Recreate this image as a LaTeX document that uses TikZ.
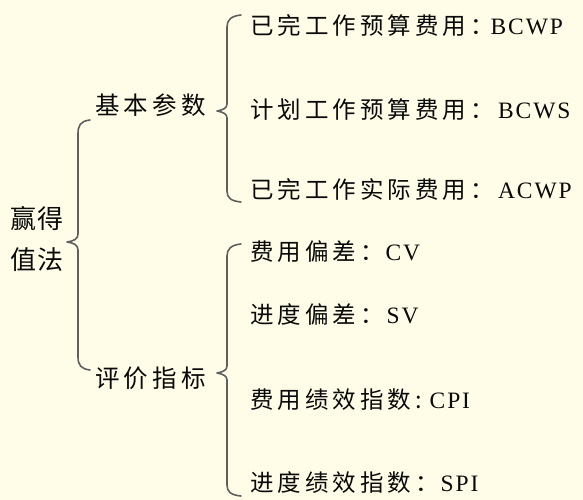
\documentclass[tikz,border=0pt]{standalone}
\usepackage{fontspec}
\setmainfont{Liberation Serif}[LetterSpace=8]
\newfontfamily\cjk{Noto Sans CJK SC}[LetterSpace=17]
\newfontfamily\cjkb{Noto Sans CJK SC}[LetterSpace=5]
\definecolor{bg}{RGB}{255,253,232}
\definecolor{bracecol}{RGB}{95,95,95}
\definecolor{txt}{RGB}{10,10,10}
\tikzset{
  lbl/.style={anchor=west,inner sep=0pt,text=txt,font=\fontsize{23.5}{28}\selectfont},
  midlbl/.style={anchor=west,inner sep=0pt,text=txt,font=\fontsize{24.5}{28}\selectfont\cjk},
  rootlbl/.style={anchor=west,inner sep=0pt,text=txt,align=left,font=\fontsize{26}{41}\selectfont\cjkb},
  bracestyle/.style={draw=bracecol,line width=1.6pt,line cap=round,line join=round}
}
\begin{document}
\begin{tikzpicture}[x=1pt,y=-1pt]
\fill[bg] (0,0) rectangle (583,500);
\useasboundingbox (0,0) rectangle (583,500);

% root
\node[rootlbl] (root) at (10,239) {赢得\\值法};

% level 2
\node[midlbl] (jb) at (95,105) {基本参数};
\node[midlbl] (pj) at (95,378) {评价指标};

% leaves
\node[lbl] (a1) at (250,26) {{\cjk 已完工作预算费用：}\hspace{-3pt}BCWP};
\node[lbl] (a2) at (250,110) {{\cjk 计划工作预算费用：}\hspace{4.5pt}BCWS};
\node[lbl] (a3) at (250,190) {{\cjk 已完工作实际费用：}\hspace{4.5pt}ACWP};
\node[lbl] (b1) at (250,252) {{\cjk 费用偏差：}\hspace{2pt}CV};
\node[lbl] (b2) at (250,315) {{\cjk 进度偏差：}\hspace{3pt}SV};
\node[lbl] (b3) at (250,400) {{\cjk 费用绩效指数:}\hspace{8pt}CPI};
\node[lbl] (b4) at (250,483) {{\cjk 进度绩效指数：}\hspace{2pt}SPI};

% big brace
\draw[bracestyle] (90,120) .. controls (80,121) and (78,126) .. (78,134)
  -- (78,234) .. controls (78,239) and (74,241) .. (67,242)
  .. controls (74,243) and (78,245) .. (78,250)
  -- (78,357) .. controls (78,365) and (81,369) .. (90,370);

% upper brace
\draw[bracestyle] (241,15) .. controls (231,16) and (227,20) .. (227,27)
  -- (227,104) .. controls (227,108) and (223,110) .. (217,111)
  .. controls (223,112) and (227,114) .. (227,118)
  -- (227,191) .. controls (227,198) and (231,201) .. (241,202);

% lower brace
\draw[bracestyle] (241,244) .. controls (231,245) and (227,249) .. (227,256)
  -- (227,366) .. controls (227,370) and (223,372) .. (217,373)
  .. controls (223,374) and (227,376) .. (227,380)
  -- (227,485) .. controls (227,492) and (231,495) .. (241,496);
\end{tikzpicture}
\end{document}
